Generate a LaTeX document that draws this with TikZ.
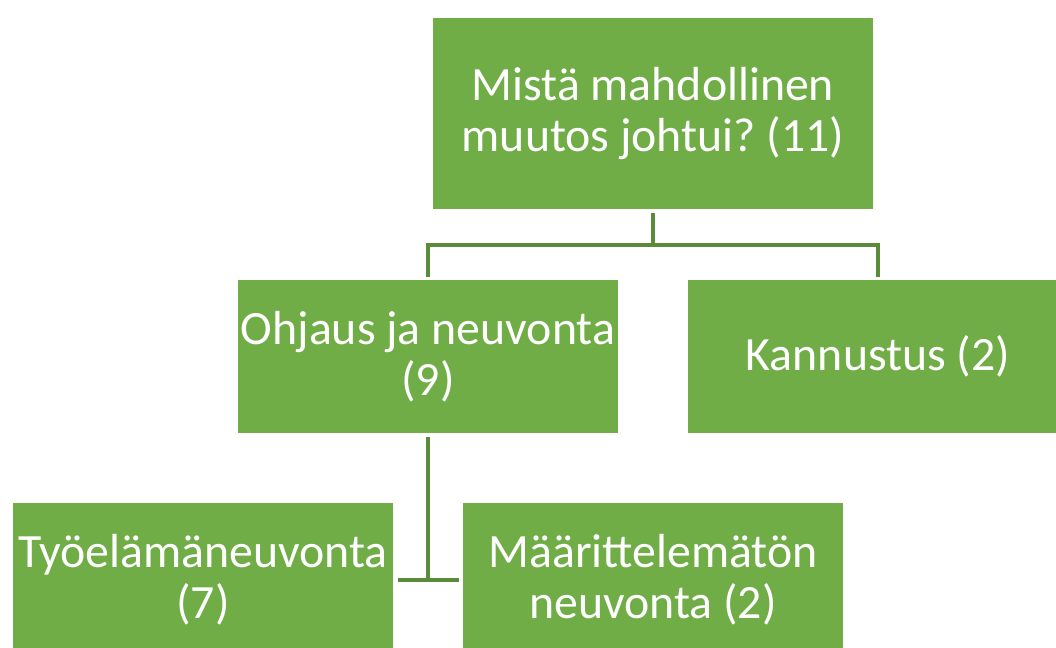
\documentclass[tikz,border=0pt]{standalone}
\usepackage{fontspec}
\setmainfont{Carlito}
\usepackage{tikz}
\definecolor{boxgreen}{HTML}{70AD47}
\definecolor{linegreen}{HTML}{5A8B3A}
\frenchspacing

\begin{document}
\begin{tikzpicture}[
    box/.style={fill=boxgreen, text=white, align=center, inner sep=0pt,
                font=\fontsize{13.6pt}{14.4pt}\selectfont},
    topbox/.style={box, minimum width=4.40cm, minimum height=1.91cm},
    subbox/.style={box, minimum width=3.80cm, minimum height=1.53cm},
    link/.style={draw=linegreen, line width=1pt}
]
                            \useasboundingbox (0,0) rectangle (10.56,-6.48);
                            \clip (0,0) rectangle (10.56,-6.48);
                            \node[topbox] (muutos) at (6.53,-1.135) {Mistä mahdollinen\\muutos johtui? (11)};
                            \node[subbox] (ohjaus) at (4.28,-3.565) {Ohjaus ja neuvonta\\(9)};
                            \node[subbox] (kannustus) at (8.78,-3.565) {Kannustus (2)};
                            \node[subbox] (tyoelama) at (2.03,-5.795) {Työelämäneuvonta\\(7)};
                            \node[subbox] (maarittelematon) at (6.53,-5.795) {Määrittelemätön\\neuvonta (2)};
                            \coordinate (haara) at (6.53,-2.45);
                            \coordinate (alahaara) at (4.28,-5.80);
                            \draw[link, shorten <=0.03cm] (muutos.south) -- (haara);
                            \draw[link, shorten >=0.02cm] (haara) -| (ohjaus.north);
                            \draw[link, shorten >=0.02cm] (haara) -| (kannustus.north);
                            \draw[link, shorten <=0.03cm] (ohjaus.south) -- (alahaara);
                            \draw[link, shorten <=0.04cm, shorten >=0.03cm] (tyoelama.east |- alahaara) -- (maarittelematon.west |- alahaara);
                        \end{tikzpicture}
\end{document}
